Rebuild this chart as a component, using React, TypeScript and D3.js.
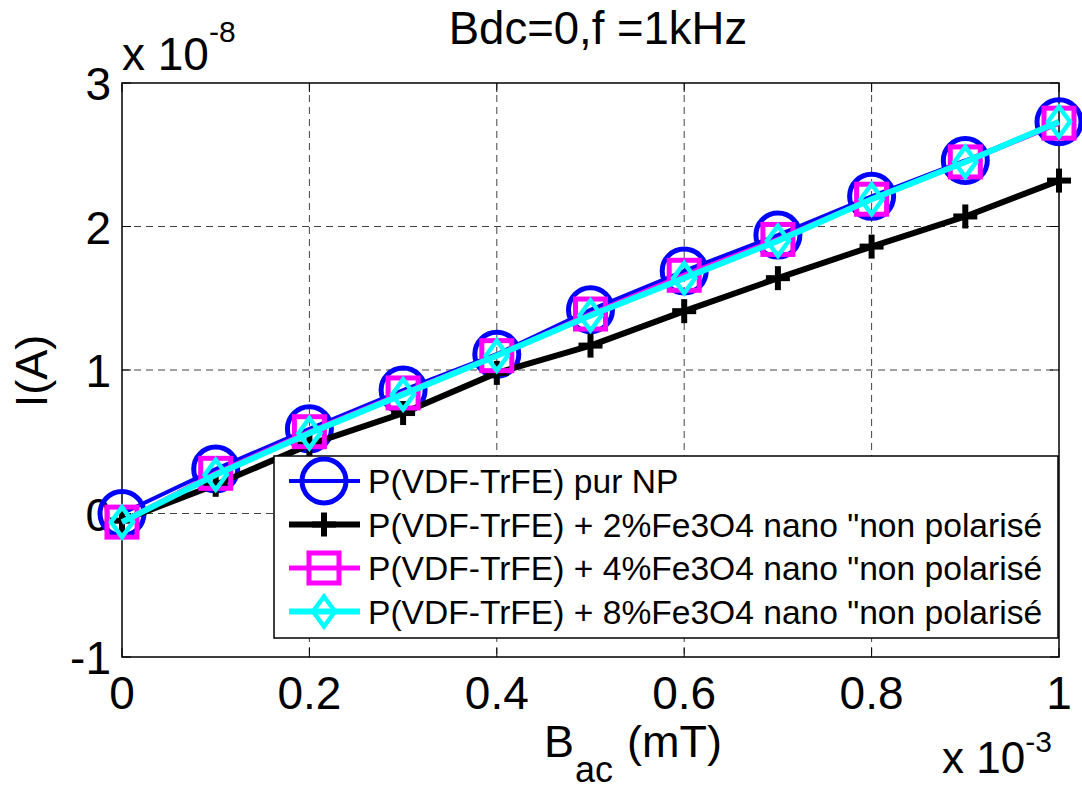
import React from "react";
import * as d3 from "d3";

const xValues = [0, 0.1e-3, 0.2e-3, 0.3e-3, 0.4e-3, 0.5e-3, 0.6e-3, 0.7e-3, 0.8e-3, 0.9e-3, 1.0e-3];
const pureNP = [0.0, 0.31, 0.59, 0.86, 1.11, 1.42, 1.69, 1.94, 2.21, 2.46, 2.73];
const fe2 = [-0.05, 0.2, 0.48, 0.7, 0.98, 1.17, 1.41, 1.64, 1.86, 2.07, 2.32];
const fe4 = [-0.06, 0.28, 0.57, 0.84, 1.1, 1.39, 1.66, 1.91, 2.19, 2.45, 2.72];
const fe8 = [-0.06, 0.27, 0.56, 0.83, 1.1, 1.38, 1.64, 1.9, 2.19, 2.45, 2.73];

const xTicks = [0, 0.2e-3, 0.4e-3, 0.6e-3, 0.8e-3, 1e-3];
const xTickLabels = ["0", "0.2", "0.4", "0.6", "0.8", "1"];
const yTicks = [-1, 0, 1, 2, 3];
const yTickLabels = ["-1", "0", "1", "2", "3"];

const legendLabels = [
  "P(VDF-TrFE) pur NP",
  'P(VDF-TrFE) + 2%Fe3O4 nano "non polarisé',
  'P(VDF-TrFE) + 4%Fe3O4 nano "non polarisé',
  'P(VDF-TrFE) + 8%Fe3O4 nano "non polarisé',
];

const FONT = "'Liberation Sans', Arial, Helvetica, sans-serif";

type MarkerKind = "circle" | "plus" | "square" | "diamond";

const seriesList: { values: number[]; color: string; lw: number; marker: MarkerKind }[] = [
  { values: pureNP, color: "#0000ff", lw: 4, marker: "circle" },
  { values: fe2, color: "#000000", lw: 6, marker: "plus" },
  { values: fe4, color: "#ff00ff", lw: 5, marker: "square" },
  { values: fe8, color: "#00ffff", lw: 6, marker: "diamond" },
];

function Marker({ kind, x, y, color }: { kind: MarkerKind; x: number; y: number; color: string }) {
  if (kind === "circle")
    return <circle cx={x} cy={y} r={22} fill="none" stroke={color} strokeWidth={5} />;
  if (kind === "plus")
    return (
      <g stroke={color} strokeWidth={6}>
        <line x1={x - 12} x2={x + 12} y1={y} y2={y} />
        <line x1={x} x2={x} y1={y - 12} y2={y + 12} />
      </g>
    );
  if (kind === "square")
    return <rect x={x - 15} y={y - 15} width={30} height={30} fill="none" stroke={color} strokeWidth={5} />;
  return (
    <path
      d={`M${x},${y - 15} L${x + 11},${y} L${x},${y + 15} L${x - 11},${y} Z`}
      fill="none"
      stroke={color}
      strokeWidth={4.5}
    />
  );
}

export default function App() {
  const left = 122, right = 1059, top = 83, bottom = 657;
  const x = d3.scaleLinear().domain([0, 1e-3]).range([left, right]);
  const y = d3.scaleLinear().domain([-1, 3]).range([bottom, top]);
  const line = d3
    .line<number>()
    .x((_, i) => x(xValues[i]))
    .y((d) => y(d));

  const lgX = 274, lgY = 456, lgW = 784, lgH = 182;
  const rowY = (i: number) => 481 + i * 43.5;

  return (
    <svg
      width={1082}
      height={790}
      style={{ position: "absolute", left: 0, top: 0, background: "#fff" }}
      fontFamily={FONT}
    >
      <rect x={0} y={0} width={1082} height={790} fill="#fff" />
      {/* grid */}
      <g stroke="#444" strokeWidth={1} strokeDasharray="7,5">
        {xTicks.slice(1, -1).map((t, i) => (
          <line key={"gx" + i} x1={x(t)} x2={x(t)} y1={top} y2={bottom} />
        ))}
        {yTicks.slice(1, -1).map((t, i) => (
          <line key={"gy" + i} x1={left} x2={right} y1={y(t)} y2={y(t)} />
        ))}
      </g>
      {/* ticks */}
      <g stroke="#000" strokeWidth={1}>
        {xTicks.map((t, i) => (
          <g key={"tx" + i}>
            <line x1={x(t)} x2={x(t)} y1={bottom} y2={bottom - 9} />
            <line x1={x(t)} x2={x(t)} y1={top} y2={top + 9} />
          </g>
        ))}
        {yTicks.map((t, i) => (
          <g key={"ty" + i}>
            <line x1={left} x2={left + 9} y1={y(t)} y2={y(t)} />
            <line x1={right} x2={right - 9} y1={y(t)} y2={y(t)} />
          </g>
        ))}
      </g>
      <rect x={left} y={top} width={right - left} height={bottom - top} fill="none" stroke="#000" strokeWidth={1.5} />
      {/* tick labels */}
      <g fontSize={46} fill="#000">
        {xTicks.map((t, i) => (
          <text key={"lx" + i} x={x(t)} y={709} textAnchor="middle">
            {xTickLabels[i]}
          </text>
        ))}
        {yTicks.map((t, i) => (
          <text key={"ly" + i} x={111} y={y(t) + 17} textAnchor="end">
            {yTickLabels[i]}
          </text>
        ))}
      </g>
      {/* exponent labels */}
      <text x={122} y={70} fontSize={46} fill="#000">
        x 10<tspan fontSize={30} dy={-28}>-8</tspan>
      </text>
      <text x={942} y={773} fontSize={44} fill="#000">
        x 10<tspan fontSize={30} dy={-21}>-3</tspan>
      </text>
      {/* title */}
      <text x={598} y={44} fontSize={45.5} textAnchor="middle" fill="#000">
        Bdc=0,f =1kHz
      </text>
      {/* axis labels */}
      <text x={544} y={757} fontSize={45} fill="#000">B</text>
      <text x={575} y={782} fontSize={36} fill="#000">ac</text>
      <text x={627} y={757} fontSize={45} fill="#000">(mT)</text>
      <text transform="translate(47,371) rotate(-90)" fontSize={45} textAnchor="middle" fill="#000">
        I(A)
      </text>
      {/* series */}
      {seriesList.map((s, si) => (
        <g key={"s" + si}>
          <path d={line(s.values) || ""} fill="none" stroke={s.color} strokeWidth={s.lw} strokeLinejoin="round" />
          {s.values.map((v, i) => (
            <Marker key={i} kind={s.marker} x={x(xValues[i])} y={y(v)} color={s.color} />
          ))}
        </g>
      ))}
      {/* legend */}
      <rect x={lgX} y={lgY} width={lgW} height={lgH} fill="#fff" stroke="#000" strokeWidth={1.5} />
      {seriesList.map((s, i) => (
        <g key={"lg" + i}>
          <line x1={289} x2={360} y1={rowY(i)} y2={rowY(i)} stroke={s.color} strokeWidth={s.lw} />
          <Marker kind={s.marker} x={324} y={rowY(i)} color={s.color} />
          <text x={368} y={rowY(i) + 12} fontSize={33.6} fill="#000">
            {legendLabels[i]}
          </text>
        </g>
      ))}
    </svg>
  );
}
